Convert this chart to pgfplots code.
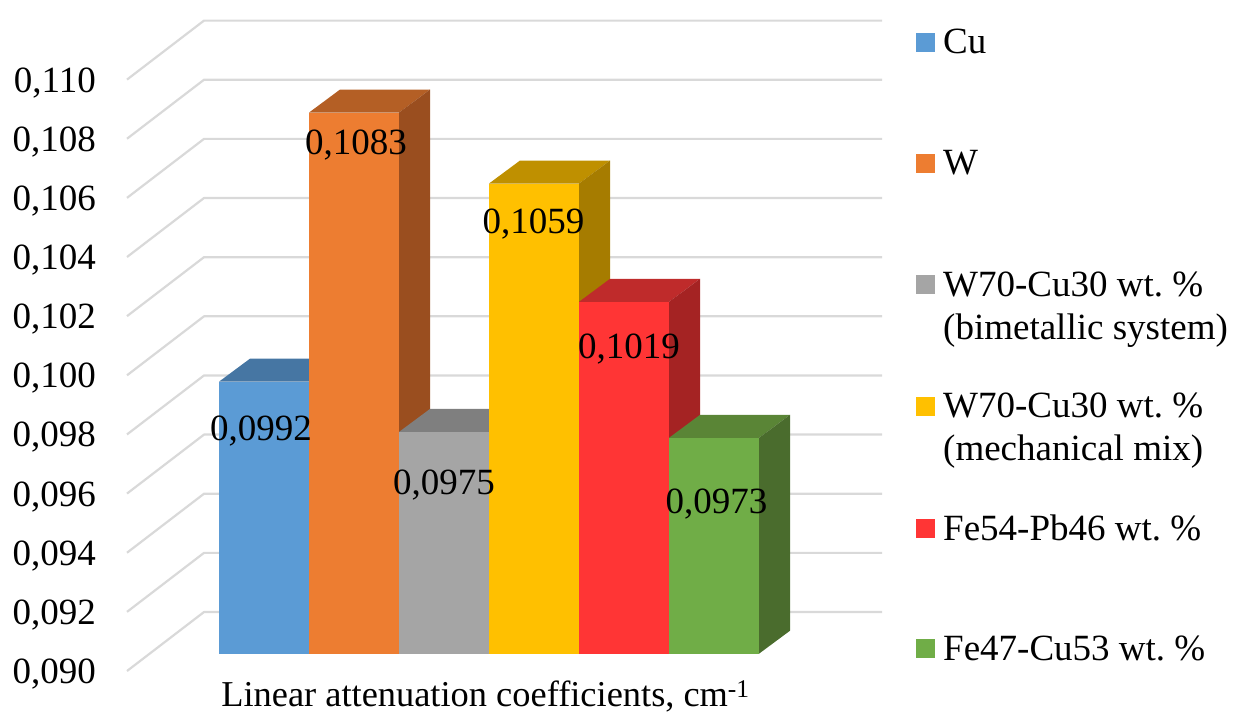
\documentclass[border=0pt]{standalone}
\usepackage{pgfplots}
\pgfplotsset{compat=1.18}
\usepackage{fontspec}
\setmainfont{Liberation Serif}

\newcommand{\chartfont}{\fontsize{37}{43}\selectfont}
\newcommand{\legendtext}[1]{\parbox[t][121.3pt][t]{290pt}{\chartfont\frenchspacing\raggedright #1}}

\definecolor{gridgrey}{HTML}{D9D9D9}
\definecolor{cuF}{HTML}{5B9BD5}\definecolor{cuT}{HTML}{4676A3}\definecolor{cuS}{HTML}{3E6A94}
\definecolor{wF}{HTML}{ED7D31}\definecolor{wT}{HTML}{B45F25}\definecolor{wS}{HTML}{9A4E1F}
\definecolor{bimF}{HTML}{A5A5A5}\definecolor{bimT}{HTML}{7F7F7F}\definecolor{bimS}{HTML}{6B6B6B}
\definecolor{mixF}{HTML}{FFC000}\definecolor{mixT}{HTML}{BF9000}\definecolor{mixS}{HTML}{A67C00}
\definecolor{fepbF}{HTML}{FF3535}\definecolor{fepbT}{HTML}{BF2B2B}\definecolor{fepbS}{HTML}{A52323}
\definecolor{fecuF}{HTML}{70AD47}\definecolor{fecuT}{HTML}{5A8536}\definecolor{fecuS}{HTML}{4A6C2D}

% Depth of the pseudo-3D bars: 31 units across, 0.000778 up the value scale.
% #1,#2 bar edges, #3 value, #4 colour stem, #5 legend text
\newcommand{\threeDbar}[5]{%
  \addplot[forget plot,fill=#4T,draw=none] coordinates
    {(#1,#3) (#2,#3) ({#2+31},{#3+0.000778}) ({#1+31},{#3+0.000778})} --cycle;
  \addplot[forget plot,fill=#4S,draw=none] coordinates
    {(#2,0.09) ({#2+31},0.090778) ({#2+31},{#3+0.000778}) (#2,#3)} --cycle;
  \addplot[fill=#4F,draw=none] coordinates
    {(#1,0.09) (#2,0.09) (#2,#3) (#1,#3)} --cycle;
  \addlegendentry{\legendtext{#5}}
}

\begin{document}
\begin{tikzpicture}[x=1pt,y=1pt]
\begin{axis}[
  scale only axis,
  width=1233pt,height=713pt,
  xmin=0,xmax=1233,
  ymin=0.087995,ymax=0.112107,
  clip=false,
  axis line style={draw=none},
  major tick length=0pt,
  xtick=\empty,
  ytick={0.09,0.092,0.094,0.096,0.098,0.1,0.102,0.104,0.106,0.108,0.11},
  scaled y ticks=false,
  yticklabel style={
    font=\chartfont,anchor=east,xshift=96pt,yshift=-20.3pt,inner sep=0pt,
    /pgf/number format/assume math mode=true,
    /pgf/number format/fixed,
    /pgf/number format/fixed zerofill,
    /pgf/number format/precision=3,
    /pgf/number format/use comma,
  },
  legend cell align=left,
  legend image code/.code={\fill[#1] (0pt,2pt) rectangle (19pt,21pt);},
  legend style={
    at={(axis cs:916,0.111125)},anchor=north west,
    draw=none,fill=none,inner sep=0pt,
    row sep=0pt,
    /tikz/every odd column/.append style={column sep=8pt},
    nodes={inner sep=0pt,anchor=base west,text depth=},
  },
]
% Floor-to-top grid: side wall diagonal, then the back wall
\pgfplotsinvokeforeach{0.090,0.092,0.094,0.096,0.098,0.100,0.102,0.104,0.106,0.108,0.110}{
  \addplot[forget plot,gridgrey,line width=2.2pt,line join=bevel] coordinates
    {(127,{#1-0.000585}) (204,{#1+0.00141}) (882,{#1+0.00141})};
}
% Bars, painted left to right so that each covers its neighbour's side
\threeDbar{219}{309}{0.0992}{cu}{Cu}
\threeDbar{309}{399}{0.1083}{w}{W}
\threeDbar{399}{489}{0.0975}{bim}{W70-Cu30 wt. \%\\(bimetallic system)}
\threeDbar{489}{579}{0.1059}{mix}{W70-Cu30 wt. \%\\(mechanical mix)}
\threeDbar{579}{669}{0.1019}{fepb}{Fe54-Pb46 wt. \%}
\threeDbar{669}{759}{0.0973}{fecu}{Fe47-Cu53 wt. \%}
% Value labels
\node[font=\chartfont,inner sep=0pt,yshift=-49pt] at (axis cs:261,0.0992) {0,0992};
\node[font=\chartfont,inner sep=0pt,yshift=-32pt] at (axis cs:356,0.1083) {0,1083};
\node[font=\chartfont,inner sep=0pt,yshift=-53pt] at (axis cs:444,0.0975) {0,0975};
\node[font=\chartfont,inner sep=0pt,yshift=-40pt] at (axis cs:533.5,0.1059) {0,1059};
\node[font=\chartfont,inner sep=0pt,yshift=-47pt] at (axis cs:629,0.1019) {0,1019};
\node[font=\chartfont,inner sep=0pt,yshift=-66pt] at (axis cs:716.5,0.0973) {0,0973};
% Category title under the bars
\node[font=\fontsize{36.4}{43}\selectfont,anchor=base,inner sep=0pt] at (axis cs:485.5,0.08823)
  {Linear attenuation coefficients, cm\textsuperscript{-1}};
\end{axis}
% The page is exactly the axis box; the last legend row's spare height stays outside it
\pgfresetboundingbox
\path (0,0) rectangle (1233pt,713pt);
\end{tikzpicture}
\end{document}
